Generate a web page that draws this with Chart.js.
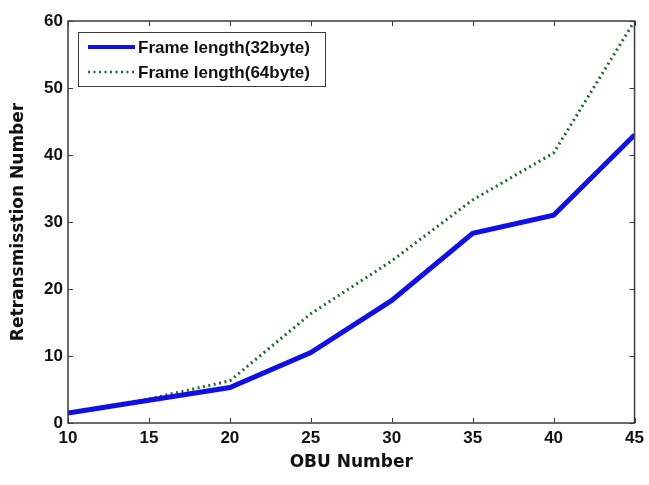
<!DOCTYPE html>
<html lang="en">
<head>
<meta charset="utf-8">
<title>Retransmission vs OBU number</title>
<script src="https://cdn.jsdelivr.net/npm/chart.js"></script>
<style>
    html, body { margin: 0; padding: 0; background: #fff; }
    #wrap { width: 649px; height: 485px; }
</style>
</head>
<body>
<div id="wrap"><canvas id="retxChart" width="649" height="485"></canvas></div>
<script>
    // values
    const obuNumbers = [10, 15, 20, 25, 30, 35, 40, 45];
    const frame32 = [1.5, 3.4, 5.3, 10.5, 18.3, 28.3, 31.0, 43.0];
    const frame64 = [1.5, 3.6, 6.3, 16.3, 24.2, 33.3, 40.3, 60.0];
    const xTicks = [10, 15, 20, 25, 30, 35, 40, 45];
    const yTicks = [0, 10, 20, 30, 40, 50, 60];
    const seriesLabels = ['Frame length(32byte)', 'Frame length(64byte)'];

    const FONT = '"Liberation Sans", Arial, Helvetica, sans-serif';
    const WIDE = '"DejaVu Sans", Verdana, sans-serif';
    const AXIS = '#3a3a3a';

    const toPoints = ys => obuNumbers.map((x, i) => ({ x: x, y: ys[i] }));

    // matlab style box with inward ticks on all four sides
    const boxTicks = {
        id: 'boxTicks',
        afterDatasetsDraw(chart) {
            const { ctx, chartArea: a, scales } = chart;
            ctx.save();
            ctx.strokeStyle = AXIS;
            ctx.lineWidth = 1.5;
            ctx.strokeRect(a.left, a.top, a.right - a.left, a.bottom - a.top);
            ctx.lineWidth = 1;
            const len = 5;
            ctx.beginPath();
            xTicks.forEach(v => {
                const px = Math.round(scales.x.getPixelForValue(v)) + 0.5;
                ctx.moveTo(px, a.bottom); ctx.lineTo(px, a.bottom - len);
                ctx.moveTo(px, a.top); ctx.lineTo(px, a.top + len);
            });
            yTicks.forEach(v => {
                const py = Math.round(scales.y.getPixelForValue(v)) + 0.5;
                ctx.moveTo(a.left, py); ctx.lineTo(a.left + len, py);
                ctx.moveTo(a.right, py); ctx.lineTo(a.right - len, py);
            });
            ctx.stroke();
            ctx.restore();
        }
    };

    // legend box in the upper left corner of the plot
    const boxLegend = {
        id: 'boxLegend',
        afterDraw(chart) {
            const { ctx, chartArea: a } = chart;
            const x0 = a.left + 10, y0 = a.top + 11, w = 247, h = 54;
            ctx.save();
            ctx.fillStyle = '#fff';
            ctx.fillRect(x0, y0, w, h);
            ctx.strokeStyle = AXIS;
            ctx.lineWidth = 1;
            ctx.strokeRect(x0 + 0.5, y0 + 0.5, w, h);
            ctx.font = 'bold 17px ' + FONT;
            ctx.textBaseline = 'middle';
            chart.data.datasets.forEach((ds, i) => {
                const cy = y0 + 15 + i * 25;
                ctx.beginPath();
                ctx.strokeStyle = ds.borderColor;
                ctx.lineWidth = i === 0 ? 4 : 2.5;
                ctx.setLineDash(ds.borderDash || []);
                ctx.moveTo(x0 + 10, cy);
                ctx.lineTo(x0 + 57, cy);
                ctx.stroke();
                ctx.setLineDash([]);
                ctx.fillStyle = '#111';
                ctx.fillText(ds.label, x0 + 60, cy + 1);
            });
            ctx.restore();
        }
    };

    new Chart(document.getElementById('retxChart'), {
        type: 'line',
        data: {
            datasets: [
                {
                    label: seriesLabels[0],
                    data: toPoints(frame32),
                    borderColor: '#1010e6',
                    borderWidth: 5,
                    pointRadius: 0,
                    tension: 0
                },
                {
                    label: seriesLabels[1],
                    data: toPoints(frame64),
                    borderColor: '#1f6b2a',
                    borderWidth: 3,
                    borderDash: [2, 3.5],
                    pointRadius: 0,
                    tension: 0
                }
            ]
        },
        options: {
            responsive: false,
            animation: false,
            layout: { padding: { left: 0, top: 21, right: 12, bottom: 0 } },
            plugins: { legend: { display: false }, tooltip: { enabled: false } },
            scales: {
                x: {
                    type: 'linear',
                    min: 10,
                    max: 45,
                    afterBuildTicks: s => { s.ticks = xTicks.map(v => ({ value: v })); },
                    afterFit: s => { s.height = 62; },
                    grid: { display: false, drawTicks: false },
                    border: { display: false },
                    ticks: { color: '#111', padding: 5, font: { family: FONT, size: 17, weight: 'bold' } },
                    title: {
                        display: true,
                        text: 'OBU Number',
                        color: '#111',
                        padding: { top: 0, bottom: 12 },
                        font: { family: WIDE, size: 17, weight: 'bold' }
                    }
                },
                y: {
                    min: 0,
                    max: 60,
                    afterBuildTicks: s => { s.ticks = yTicks.map(v => ({ value: v })); },
                    afterFit: s => { s.width = 68; },
                    grid: { display: false, drawTicks: false },
                    border: { display: false },
                    ticks: { color: '#111', padding: 5, font: { family: FONT, size: 17, weight: 'bold' } },
                    title: {
                        display: true,
                        text: 'Retransmisstion Number',
                        color: '#111',
                        padding: { top: 8, bottom: 0 },
                        font: { family: WIDE, size: 17, weight: 'bold' }
                    }
                }
            }
        },
        plugins: [boxTicks, boxLegend]
    });
</script>
</body>
</html>
